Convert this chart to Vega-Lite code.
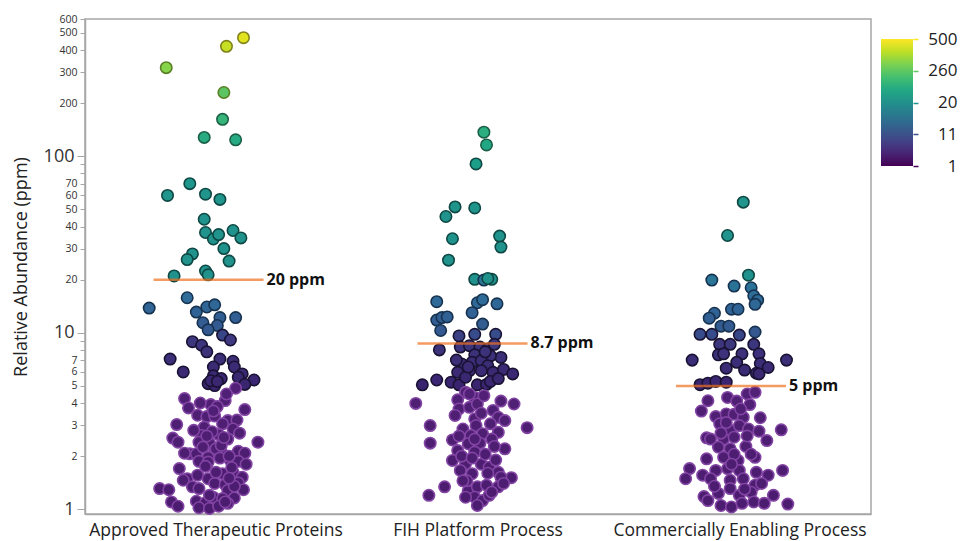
{
 "$schema": "https://vega.github.io/schema/vega-lite/v6.json",
 "padding": {"left": 11, "top": 13, "right": 5, "bottom": 0},
 "background": "white",
 "config": {"font": "Open Sans", "view": {"stroke": null}, "concat": {"spacing": 9}},
 "datasets": {
  "pts": [
   {"g":"A","v":470,"j":0.21},{"g":"A","v":420,"j":0.08},{"g":"A","v":318,"j":-0.38},{"g":"A","v":230,"j":0.06},{"g":"A","v":162,"j":0.05},{"g":"A","v":128,"j":-0.09},{"g":"A","v":124,"j":0.15},{"g":"A","v":70,"j":-0.2},{"g":"A","v":60,"j":-0.37},{"g":"A","v":61,"j":-0.08},{"g":"A","v":57,"j":0.03},{"g":"A","v":44,"j":-0.09},{"g":"A","v":37,"j":-0.08},{"g":"A","v":34,"j":-0.02},{"g":"A","v":36,"j":0.02},{"g":"A","v":38,"j":0.13},{"g":"A","v":34.5,"j":0.19},{"g":"A","v":30,"j":0.06},{"g":"A","v":28,"j":-0.18},{"g":"A","v":26,"j":-0.22},{"g":"A","v":25.5,"j":0.1},{"g":"A","v":21,"j":-0.32},{"g":"A","v":22.4,"j":-0.08},{"g":"A","v":21.3,"j":-0.06},
   {"g":"A","v":15.8,"j":-0.22},{"g":"A","v":13.8,"j":-0.51},{"g":"A","v":13.1,"j":-0.15},{"g":"A","v":14,"j":-0.07},{"g":"A","v":14.4,"j":-0.01},{"g":"A","v":12.2,"j":0.15},{"g":"A","v":12.2,"j":0.03},{"g":"A","v":11.4,"j":-0.1},{"g":"A","v":11,"j":0.01},{"g":"A","v":10.4,"j":-0.06},{"g":"A","v":9.7,"j":0.05},{"g":"A","v":9.1,"j":0.11},{"g":"A","v":8.9,"j":-0.18},{"g":"A","v":8.5,"j":-0.11},{"g":"A","v":7.8,"j":-0.07},{"g":"A","v":7.1,"j":-0.35},{"g":"A","v":7.1,"j":0.03},{"g":"A","v":6.9,"j":0.13},{"g":"A","v":6,"j":-0.25},{"g":"A","v":6.4,"j":-0.02},{"g":"A","v":6.4,"j":0.14},{"g":"A","v":5.85,"j":0.2},{"g":"A","v":5.7,"j":-0.02},{"g":"A","v":5.5,"j":0.04},{"g":"A","v":5.6,"j":0.17},{"g":"A","v":5.4,"j":0.29},{"g":"A","v":5.1,"j":0.22},{"g":"A","v":5.15,"j":-0.06},{"g":"A","v":5.02,"j":-0.01},{"g":"A","v":5.35,"j":-0.04},{"g":"A","v":5.3,"j":0.01},
   {"g":"A","v":4.85,"j":0.15},{"g":"A","v":4.24,"j":-0.24},{"g":"A","v":3.92,"j":-0.04},{"g":"A","v":4.13,"j":0.07},{"g":"A","v":3.75,"j":-0.21},{"g":"A","v":3.82,"j":0.01},{"g":"A","v":3.67,"j":0.22},{"g":"A","v":3.41,"j":-0.14},{"g":"A","v":3.35,"j":-0.07},{"g":"A","v":3.18,"j":0.09},{"g":"A","v":3.2,"j":0.16},{"g":"A","v":3.38,"j":-0.01},{"g":"A","v":3.02,"j":-0.3},{"g":"A","v":2.92,"j":-0.09},{"g":"A","v":3.05,"j":0.05},{"g":"A","v":2.85,"j":0.13},{"g":"A","v":2.53,"j":-0.33},{"g":"A","v":2.4,"j":-0.29},{"g":"A","v":2.62,"j":-0.11},{"g":"A","v":2.65,"j":0.02},{"g":"A","v":2.5,"j":0.09},{"g":"A","v":2.4,"j":0.32},{"g":"A","v":2.4,"j":-0.13},{"g":"A","v":2.37,"j":-0.05},{"g":"A","v":2.13,"j":0.17},{"g":"A","v":2.06,"j":-0.2},{"g":"A","v":2.08,"j":-0.24},{"g":"A","v":2.06,"j":-0.15},{"g":"A","v":2.15,"j":-0.01},{"g":"A","v":1.97,"j":-0.06},{"g":"A","v":2.06,"j":0.05},{"g":"A","v":2.08,"j":0.22},{"g":"A","v":1.87,"j":-0.13},{"g":"A","v":1.85,"j":-0.06},{"g":"A","v":1.89,"j":0.11},{"g":"A","v":1.87,"j":0.17},{"g":"A","v":1.8,"j":0.23},{"g":"A","v":1.7,"j":-0.28},{"g":"A","v":1.49,"j":-0.22},{"g":"A","v":1.56,"j":-0.14},{"g":"A","v":1.49,"j":-0.06},{"g":"A","v":1.59,"j":0.05},{"g":"A","v":1.62,"j":0.13},{"g":"A","v":1.52,"j":0.2},{"g":"A","v":1.46,"j":-0.25},{"g":"A","v":1.34,"j":-0.18},{"g":"A","v":1.31,"j":-0.13},{"g":"A","v":1.4,"j":-0.01},{"g":"A","v":1.38,"j":0.07},{"g":"A","v":1.41,"j":0.17},{"g":"A","v":1.31,"j":-0.43},{"g":"A","v":1.29,"j":-0.36},{"g":"A","v":1.28,"j":0.09},{"g":"A","v":1.29,"j":0.21},{"g":"A","v":1.1,"j":-0.34},{"g":"A","v":1.04,"j":-0.29},{"g":"A","v":1.11,"j":-0.15},{"g":"A","v":1.09,"j":-0.08},{"g":"A","v":1.17,"j":-0.02},{"g":"A","v":1.15,"j":0.05},{"g":"A","v":1.16,"j":0.14},{"g":"A","v":1.02,"j":-0.13},{"g":"A","v":1.01,"j":-0.05},{"g":"A","v":1.04,"j":0.02},{"g":"A","v":1.08,"j":0.09},
   {"g":"A","v":2.2,"j":0},{"g":"A","v":2.3,"j":0.04},{"g":"A","v":2.75,"j":-0.03},{"g":"A","v":2.55,"j":0.06},{"g":"A","v":1.75,"j":-0.08},{"g":"A","v":1.72,"j":0.12},{"g":"A","v":1.95,"j":0.03},{"g":"A","v":2.25,"j":-0.1},{"g":"A","v":2,"j":0.1},{"g":"A","v":1.62,"j":0},{"g":"A","v":1.2,"j":-0.05},{"g":"A","v":1.35,"j":0.14},{"g":"A","v":2.7,"j":0.18},{"g":"A","v":2.8,"j":-0.17},{"g":"A","v":1.1,"j":0.07},{"g":"A","v":3.6,"j":-0.02},{"g":"A","v":4.5,"j":0.08},{"g":"A","v":4,"j":-0.12},{"g":"A","v":1.5,"j":0.1},{"g":"A","v":2.6,"j":-0.07},
   {"g":"B","v":137,"j":0.045},{"g":"B","v":116,"j":0.065},{"g":"B","v":90.5,"j":-0.015},{"g":"B","v":51.7,"j":-0.175},{"g":"B","v":45.6,"j":-0.245},{"g":"B","v":51,"j":-0.025},{"g":"B","v":34.1,"j":-0.195},{"g":"B","v":35.3,"j":0.165},{"g":"B","v":30.6,"j":0.175},{"g":"B","v":25.8,"j":-0.225},{"g":"B","v":20.1,"j":-0.025},{"g":"B","v":19.9,"j":0.045},{"g":"B","v":20.1,"j":0.105},{"g":"B","v":20.3,"j":0.075},
   {"g":"B","v":15,"j":-0.315},{"g":"B","v":14.8,"j":-0.005},{"g":"B","v":15.4,"j":0.035},{"g":"B","v":14.6,"j":0.145},{"g":"B","v":13,"j":-0.045},{"g":"B","v":11.8,"j":-0.315},{"g":"B","v":12.2,"j":-0.275},{"g":"B","v":12.3,"j":-0.235},{"g":"B","v":10.3,"j":-0.285},{"g":"B","v":11.2,"j":0.035},{"g":"B","v":9.6,"j":-0.145},{"g":"B","v":9.8,"j":-0.025},{"g":"B","v":9.8,"j":0.135},{"g":"B","v":8,"j":-0.295},{"g":"B","v":8.3,"j":-0.135},{"g":"B","v":8.45,"j":-0.065},{"g":"B","v":8.3,"j":0.015},{"g":"B","v":8.1,"j":0.075},{"g":"B","v":8.6,"j":0.125},{"g":"B","v":7.25,"j":0.175},{"g":"B","v":7.5,"j":-0.025},{"g":"B","v":7.6,"j":0.055},{"g":"B","v":7.4,"j":0.095},{"g":"B","v":6.66,"j":-0.125},{"g":"B","v":6.8,"j":-0.045},{"g":"B","v":6.95,"j":0.025},{"g":"B","v":6.5,"j":0.075},{"g":"B","v":5.97,"j":-0.155},{"g":"B","v":6.1,"j":-0.065},{"g":"B","v":6.1,"j":0.025},{"g":"B","v":5.97,"j":0.115},{"g":"B","v":6.2,"j":0.195},{"g":"B","v":5.85,"j":0.265},{"g":"B","v":5.4,"j":-0.315},{"g":"B","v":5.07,"j":-0.425},{"g":"B","v":5.25,"j":-0.205},{"g":"B","v":5.07,"j":-0.145},{"g":"B","v":5.07,"j":-0.005},{"g":"B","v":5.1,"j":0.065},{"g":"B","v":5.6,"j":-0.095},{"g":"B","v":5.3,"j":0.095},{"g":"B","v":6.4,"j":-0.075},{"g":"B","v":7.8,"j":0.055},{"g":"B","v":7,"j":-0.165},{"g":"B","v":5.5,"j":0.155},
   {"g":"B","v":4.6,"j":-0.095},{"g":"B","v":4.17,"j":-0.155},{"g":"B","v":4.3,"j":-0.025},{"g":"B","v":3.98,"j":-0.475},{"g":"B","v":4.1,"j":0.175},{"g":"B","v":3.95,"j":0.275},{"g":"B","v":3.7,"j":-0.145},{"g":"B","v":3.78,"j":-0.065},{"g":"B","v":3.95,"j":-0.005},{"g":"B","v":3.63,"j":0.115},{"g":"B","v":3.25,"j":-0.025},{"g":"B","v":3.32,"j":0.155},{"g":"B","v":3.18,"j":0.205},{"g":"B","v":2.98,"j":-0.365},{"g":"B","v":2.85,"j":-0.115},{"g":"B","v":2.98,"j":-0.015},{"g":"B","v":2.9,"j":0.375},{"g":"B","v":2.73,"j":0.155},{"g":"B","v":2.62,"j":-0.055},{"g":"B","v":2.68,"j":0.035},{"g":"B","v":2.37,"j":-0.365},{"g":"B","v":2.47,"j":-0.195},{"g":"B","v":2.5,"j":0.105},{"g":"B","v":2.35,"j":-0.075},{"g":"B","v":2.37,"j":0.015},{"g":"B","v":2.2,"j":0.205},{"g":"B","v":2.15,"j":-0.155},{"g":"B","v":2.11,"j":-0.025},{"g":"B","v":2.27,"j":0.125},{"g":"B","v":1.89,"j":-0.195},{"g":"B","v":1.81,"j":-0.095},{"g":"B","v":1.8,"j":0.025},{"g":"B","v":1.73,"j":0.085},{"g":"B","v":1.66,"j":-0.135},{"g":"B","v":1.62,"j":0.155},{"g":"B","v":1.59,"j":-0.045},{"g":"B","v":1.51,"j":0.255},{"g":"B","v":1.52,"j":0.175},{"g":"B","v":1.34,"j":-0.255},{"g":"B","v":1.2,"j":-0.375},{"g":"B","v":1.27,"j":-0.075},{"g":"B","v":1.34,"j":-0.005},{"g":"B","v":1.37,"j":0.065},{"g":"B","v":1.34,"j":0.155},{"g":"B","v":1.17,"j":-0.025},{"g":"B","v":1.12,"j":0.035},{"g":"B","v":1.2,"j":0.085},{"g":"B","v":1.05,"j":-0.005},{"g":"B","v":1.17,"j":-0.095},{"g":"B","v":1.4,"j":0.195},
   {"g":"B","v":2.05,"j":0.055},{"g":"B","v":2,"j":-0.125},{"g":"B","v":3.05,"j":0.095},{"g":"B","v":3.4,"j":-0.175},{"g":"B","v":3.5,"j":0.025},{"g":"B","v":1.95,"j":-0.045},{"g":"B","v":1.9,"j":0.135},{"g":"B","v":1.45,"j":-0.085},{"g":"B","v":1.6,"j":0.075},{"g":"B","v":2.5,"j":-0.025},{"g":"B","v":2.6,"j":-0.145},{"g":"B","v":4.4,"j":0.045},{"g":"B","v":4.5,"j":-0.065},{"g":"B","v":1.25,"j":0.105},{"g":"B","v":1.45,"j":-0.115},
   {"g":"C","v":55,"j":0.025},{"g":"C","v":35.6,"j":-0.095},{"g":"C","v":19.9,"j":-0.215},{"g":"C","v":21.2,"j":0.065},{"g":"C","v":18.4,"j":-0.045},{"g":"C","v":18,"j":0.085},{"g":"C","v":16.2,"j":0.105},{"g":"C","v":15.3,"j":0.135},{"g":"C","v":14.5,"j":0.115},{"g":"C","v":13.6,"j":-0.065},{"g":"C","v":13.6,"j":-0.015},{"g":"C","v":12.9,"j":-0.195},{"g":"C","v":12.1,"j":-0.235},{"g":"C","v":10.9,"j":-0.145},{"g":"C","v":10.9,"j":-0.085},{"g":"C","v":9.8,"j":-0.305},{"g":"C","v":9.8,"j":-0.215},{"g":"C","v":9.7,"j":-0.005},{"g":"C","v":10.1,"j":0.115},{"g":"C","v":8.6,"j":-0.155},{"g":"C","v":8.6,"j":-0.075},{"g":"C","v":8.6,"j":0.105},{"g":"C","v":7,"j":-0.365},{"g":"C","v":7.5,"j":-0.165},{"g":"C","v":7.6,"j":-0.125},{"g":"C","v":7.6,"j":0.015},{"g":"C","v":7.6,"j":0.145},{"g":"C","v":7,"j":0.355},{"g":"C","v":6.8,"j":-0.025},{"g":"C","v":6.7,"j":0.155},{"g":"C","v":6.36,"j":0.215},{"g":"C","v":6.3,"j":-0.105},{"g":"C","v":6.15,"j":0.035},{"g":"C","v":5.9,"j":0.125},{"g":"C","v":5.85,"j":0.145},{"g":"C","v":5.08,"j":-0.305},{"g":"C","v":5.18,"j":-0.245},{"g":"C","v":5.3,"j":-0.185},{"g":"C","v":5.25,"j":-0.105},
   {"g":"C","v":4.5,"j":0.055},{"g":"C","v":4.6,"j":0.115},{"g":"C","v":4.12,"j":-0.245},{"g":"C","v":4.3,"j":-0.095},{"g":"C","v":4.1,"j":-0.025},{"g":"C","v":3.92,"j":0.075},{"g":"C","v":3.6,"j":-0.295},{"g":"C","v":3.35,"j":-0.185},{"g":"C","v":3.47,"j":-0.105},{"g":"C","v":3.45,"j":-0.045},{"g":"C","v":3.32,"j":0.025},{"g":"C","v":3.05,"j":-0.155},{"g":"C","v":2.8,"j":-0.075},{"g":"C","v":2.98,"j":-0.005},{"g":"C","v":2.85,"j":0.065},{"g":"C","v":2.77,"j":0.145},{"g":"C","v":2.82,"j":0.315},{"g":"C","v":2.54,"j":-0.255},{"g":"C","v":2.5,"j":-0.225},{"g":"C","v":2.5,"j":-0.125},{"g":"C","v":2.56,"j":-0.045},{"g":"C","v":2.27,"j":0.045},{"g":"C","v":2.45,"j":0.205},{"g":"C","v":2.25,"j":-0.165},{"g":"C","v":2.2,"j":-0.075},{"g":"C","v":1.93,"j":-0.255},{"g":"C","v":1.97,"j":-0.125},{"g":"C","v":1.89,"j":-0.015},{"g":"C","v":1.97,"j":0.115},{"g":"C","v":1.7,"j":-0.385},{"g":"C","v":1.49,"j":-0.415},{"g":"C","v":1.56,"j":-0.285},{"g":"C","v":1.66,"j":-0.185},{"g":"C","v":1.7,"j":-0.095},{"g":"C","v":1.66,"j":-0.005},{"g":"C","v":1.62,"j":0.125},{"g":"C","v":1.56,"j":0.215},{"g":"C","v":1.66,"j":0.325},{"g":"C","v":1.49,"j":-0.225},{"g":"C","v":1.46,"j":-0.075},{"g":"C","v":1.49,"j":0.025},{"g":"C","v":1.37,"j":0.115},{"g":"C","v":1.4,"j":0.165},{"g":"C","v":1.18,"j":-0.275},{"g":"C","v":1.23,"j":-0.165},{"g":"C","v":1.31,"j":-0.075},{"g":"C","v":1.2,"j":-0.005},{"g":"C","v":1.25,"j":0.085},{"g":"C","v":1.2,"j":0.255},{"g":"C","v":1.05,"j":-0.145},{"g":"C","v":1.03,"j":-0.065},{"g":"C","v":1.08,"j":0.015},{"g":"C","v":1.1,"j":0.105},{"g":"C","v":1.08,"j":0.185},{"g":"C","v":1.07,"j":0.365},{"g":"C","v":1.12,"j":-0.245},
   {"g":"C","v":2.05,"j":-0.045},{"g":"C","v":2.6,"j":0.055},{"g":"C","v":2.7,"j":-0.145},{"g":"C","v":3.7,"j":0.005},{"g":"C","v":1.8,"j":-0.065},{"g":"C","v":2.05,"j":0.085},{"g":"C","v":1.35,"j":-0.195},{"g":"C","v":1.3,"j":0.035},{"g":"C","v":3.1,"j":-0.105},{"g":"C","v":3.3,"j":0.155}
  ],
  "med": [
   {"g":"A","v":20,"j":-0.057,"lab":"20 ppm"},
   {"g":"B","v":8.7,"j":-0.042,"lab":"8.7 ppm"},
   {"g":"C","v":5,"j":-0.069,"lab":"5 ppm"}
  ],
  "leg": [{"lab":"500"},{"lab":"260"},{"lab":"20"},{"lab":"11"},{"lab":"1"}]
 },
 "hconcat": [
  {
   "width": 786,
   "height": 495,
   "view": {"stroke": "#a6a6a6", "strokeWidth": 1.5},
   "layer": [
    {
     "data": {"name": "pts"},
     "mark": {"type": "circle", "size": 130, "strokeWidth": 1.6, "opacity": 1},
     "encoding": {
      "x": {"field": "g", "type": "nominal", "title": null, "scale": {"domain": ["A","B","C"], "paddingInner": 0, "paddingOuter": 0},
            "axis": {"labelExpr": "datum.value=='A'?'Approved Therapeutic Proteins':datum.value=='B'?'FIH Platform Process':'Commercially Enabling Process'", "labelAngle": 0, "labelLimit": 0, "ticks": false, "labelFontSize": 17.5, "labelPadding": 7, "domainColor": "#a6a6a6", "domainWidth": 1.5, "labelColor": "#222222"}},
      "xOffset": {"field": "j", "type": "quantitative", "scale": {"domain": [-1, 1]}},
      "y": {"field": "v", "type": "quantitative", "scale": {"type": "log", "domain": [0.94, 600], "nice": false},
            "axis": {"title": "Relative Abundance (ppm)", "values": [1,2,3,4,5,6,7,8,9,10,20,30,40,50,60,70,80,90,100,200,300,400,500,600],
                     "labelExpr": "(datum.value==8||datum.value==9||datum.value==80||datum.value==90)?'':format(datum.value,'d')",
                     "labelOverlap": false,
                     "labelFontSize": {"condition": {"test": "datum.value==1||datum.value==10||datum.value==100", "value": 18}, "value": 10.5},
                     "tickSize": {"condition": {"test": "datum.value==1||datum.value==10||datum.value==100", "value": 8}, "value": 5},
                     "grid": false, "domainColor": "#a6a6a6", "domainWidth": 1.5, "tickColor": "#a6a6a6", "labelPadding": 3, "labelColor": "#333333",
                     "titleFontSize": 18, "titleFontWeight": "normal", "titleColor": "#222222", "titlePadding": 13}},
      "fill": {"field": "v", "type": "quantitative", "legend": null,
               "scale": {"domain": [1, 4.99, 5, 9.5, 10, 16, 19.9, 20, 70, 130, 230, 320, 420, 500],
                         "range": ["#4c1c70","#512177","#3a2470","#3d3a80","#35578f","#2f6d99","#2b7596","#21918c","#1f968b","#2aac81","#5cc463","#86d449","#c5df24","#f2e51e"]}},
      "stroke": {"field": "v", "type": "quantitative", "legend": null,
                 "scale": {"type": "threshold", "domain": [5, 10, 20, 100, 200, 400],
                           "range": ["#8244a3","#1a1233","#17324f","#0e4743","#1a6046","#5a7f25","#80801a"]}}
     }
    },
    {
     "data": {"name": "med"},
     "mark": {"type": "tick", "size": 110, "thickness": 2.5, "color": "#f07020", "orient": "horizontal"},
     "encoding": {
      "x": {"field": "g", "type": "nominal"},
      "xOffset": {"field": "j", "type": "quantitative"},
      "y": {"field": "v", "type": "quantitative"}
     }
    },
    {
     "data": {"name": "med"},
     "mark": {"type": "text", "align": "left", "baseline": "middle", "dx": 58, "fontSize": 16, "fontWeight": "bold", "color": "#111111"},
     "encoding": {
      "x": {"field": "g", "type": "nominal"},
      "xOffset": {"field": "j", "type": "quantitative"},
      "y": {"field": "v", "type": "quantitative"},
      "text": {"field": "lab"}
     }
    }
   ]
  },
  {
   "width": 32,
   "height": 147,
   "view": {"stroke": null},
   "data": {"name": "leg"},
   "mark": {"type": "rect", "fill": {"gradient": "linear", "x1": 0, "y1": 1, "x2": 0, "y2": 0,
     "stops": [{"offset": 0, "color": "#440154"},{"offset": 0.1, "color": "#482475"},{"offset": 0.2, "color": "#414487"},{"offset": 0.3, "color": "#355f8d"},{"offset": 0.4, "color": "#2a788e"},{"offset": 0.5, "color": "#21918c"},{"offset": 0.6, "color": "#22a884"},{"offset": 0.7, "color": "#44bf70"},{"offset": 0.8, "color": "#7ad151"},{"offset": 0.9, "color": "#bddf26"},{"offset": 1, "color": "#fde725"}]}},
   "encoding": {
    "y": {"datum": "500", "type": "ordinal", "scale": {"type": "point", "domain": ["500","260","20","11","1"], "range": [20, 147], "padding": 0},
          "axis": {"orient": "right", "title": null, "domain": false, "tickSize": 5, "tickWidth": 1.5,
                   "tickColor": {"condition": [{"test": "datum.value=='500'", "value": "#fde725"},{"test": "datum.value=='260'", "value": "#5ec962"},{"test": "datum.value=='20'", "value": "#21918c"},{"test": "datum.value=='11'", "value": "#3b528b"}], "value": "#440154"},
                   "labelAlign": "right", "labelBaseline": "middle", "labelPadding": 39, "labelFontSize": 17, "labelColor": "#222222"}},
    "y2": {"datum": "1"}
   }
  }
 ]
}
